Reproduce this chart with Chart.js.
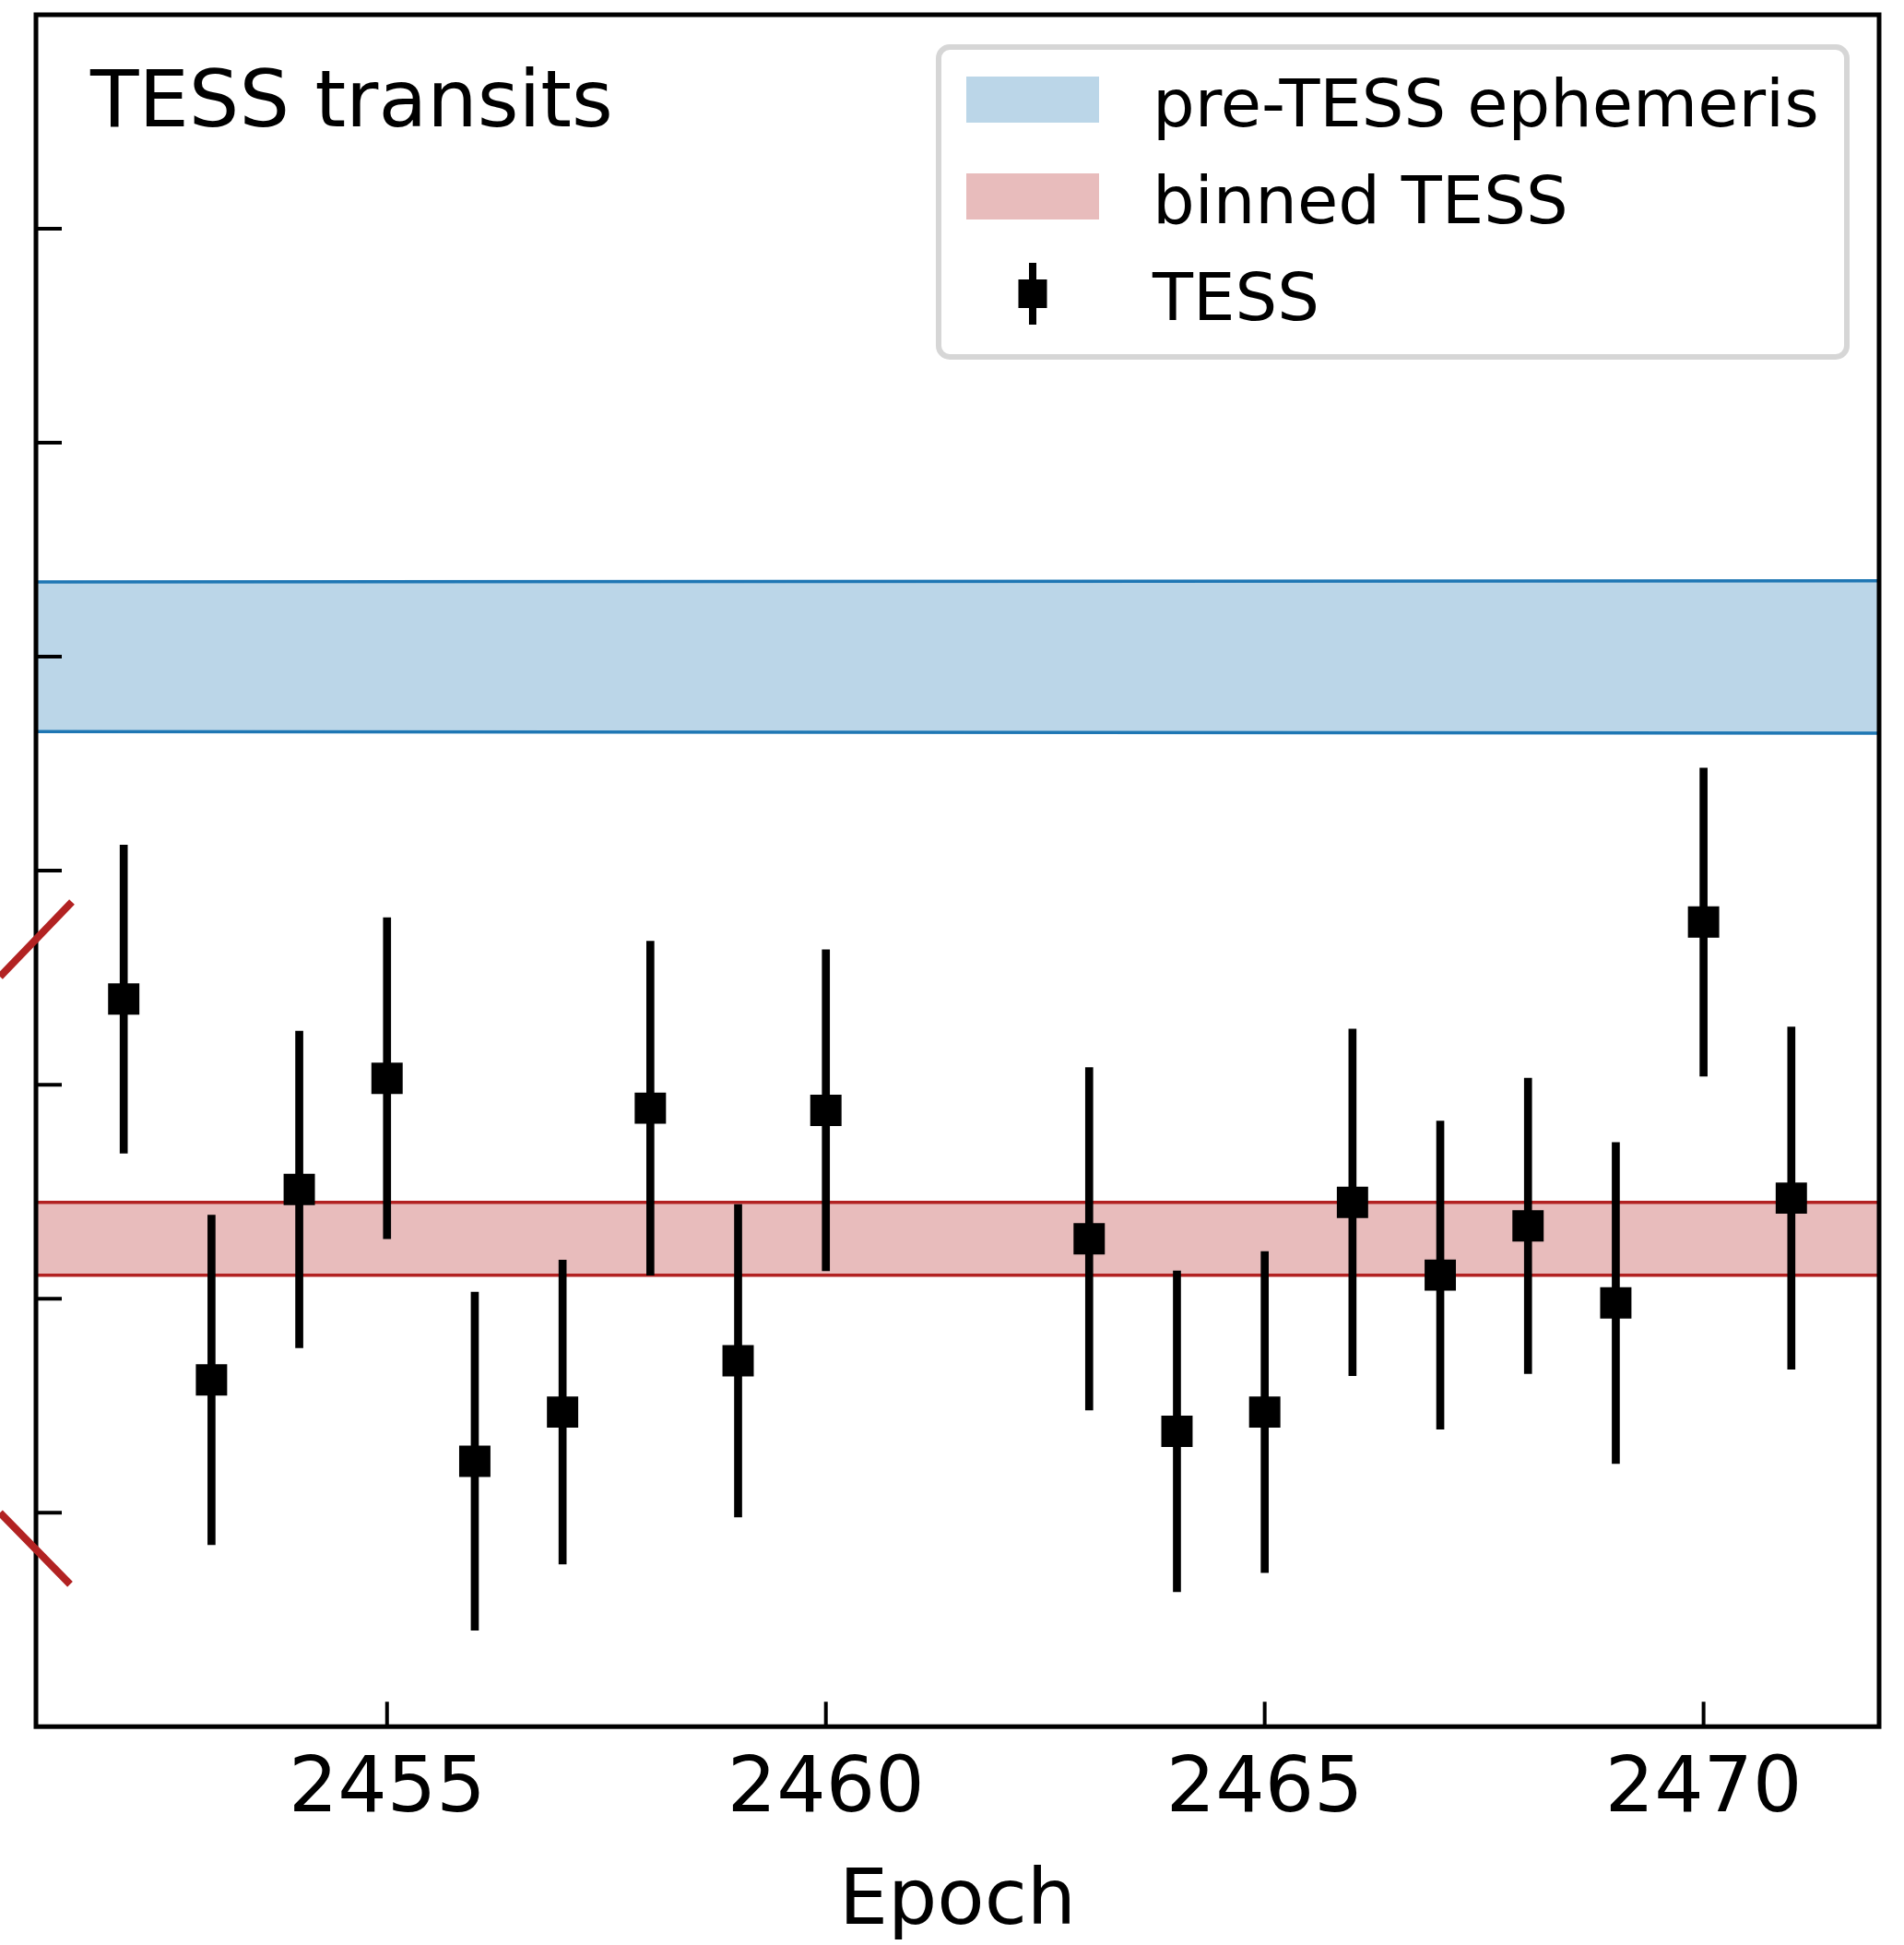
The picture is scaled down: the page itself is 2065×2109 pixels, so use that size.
<!DOCTYPE html>
<html lang="en">
<head>
<meta charset="UTF-8">
<title>TESS transits</title>
<style>
    body { margin: 0; background: #fff; }
    canvas { display: block; }
</style>
<script src="https://cdn.jsdelivr.net/npm/chart.js"></script>
</head>
<body>
<canvas id="ttvChart" width="2065" height="2109"></canvas>
<script>
    // TESS transit epochs and their timing offsets (1-sigma errors)
    const epochs = [2452, 2453, 2454, 2455, 2456, 2457, 2458, 2459, 2460, 2463, 2464, 2465, 2466, 2467, 2468, 2469, 2470, 2471];
    const offsets = [-0.60, -2.38, -1.49, -0.97, -2.76, -2.53, -1.11, -2.29, -1.12, -1.72, -2.62, -2.53, -1.55, -1.89, -1.66, -2.02, -0.24, -1.53];
    const errors = [0.72, 0.77, 0.74, 0.75, 0.79, 0.71, 0.78, 0.73, 0.75, 0.80, 0.75, 0.75, 0.81, 0.72, 0.69, 0.75, 0.72, 0.80];

    // bands, given at both ends of the epoch range
    const bandEpochs = [2451, 2472];
    const preTessLow = [0.65, 0.643];
    const preTessHigh = [1.349, 1.355];
    const binnedLow = [-1.89, -1.89];
    const binnedHigh = [-1.55, -1.55];

    const xTicks = [2455, 2460, 2465, 2470];
    const yTicks = [-3, -2, -1, 0, 1, 2, 3];

    const FONT = '"DejaVu Sans", sans-serif';
    const BLUE = '#1f77b4';
    const RED = '#b22222';
    const BLUE_FILL = 'rgba(31, 119, 180, 0.3)';
    const RED_FILL = 'rgba(178, 34, 34, 0.3)';

    function band(values) {
        return bandEpochs.map((e, i) => ({ x: e, y: values[i] }));
    }

    // frame, inward ticks, break marks, text label and legend
    const decorations = {
        id: 'decorations',
        afterDraw(chart) {
            const { ctx, chartArea: a, scales: { x, y } } = chart;
            ctx.save();

            ctx.strokeStyle = '#000';
            ctx.lineWidth = 4;
            ctx.beginPath();
            xTicks.forEach(v => {
                const px = x.getPixelForValue(v);
                ctx.moveTo(px, a.bottom);
                ctx.lineTo(px, a.bottom - 27);
            });
            yTicks.forEach(v => {
                const py = y.getPixelForValue(v);
                ctx.moveTo(a.left, py);
                ctx.lineTo(a.left + 28, py);
            });
            ctx.stroke();

            ctx.lineWidth = 5;
            ctx.strokeRect(a.left, a.top, a.right - a.left, a.bottom - a.top);

            // broken-axis marks
            ctx.strokeStyle = RED;
            ctx.lineWidth = 8;
            ctx.beginPath();
            ctx.moveTo(a.left - 39, y.getPixelForValue(-0.495));
            ctx.lineTo(a.left + 39, y.getPixelForValue(-0.146));
            ctx.moveTo(a.left - 39, y.getPixelForValue(-3.0));
            ctx.lineTo(a.left + 37, y.getPixelForValue(-3.335));
            ctx.stroke();

            ctx.fillStyle = '#000';
            ctx.textBaseline = 'alphabetic';
            ctx.textAlign = 'left';
            ctx.font = '86px ' + FONT;
            ctx.fillText('TESS transits', a.left + 59, a.top + 121);

            // legend
            const bx = a.right - 1020, by = a.top + 35, bw = 985, bh = 336;
            ctx.fillStyle = 'rgba(255,255,255,0.8)';
            ctx.strokeStyle = '#d6d6d6';
            ctx.lineWidth = 6;
            ctx.beginPath();
            ctx.roundRect(bx, by, bw, bh, 12);
            ctx.fill();
            ctx.stroke();

            const ds = chart.data.datasets;
            const rows = [
                { label: ds[1].label, fill: BLUE_FILL },
                { label: ds[3].label, fill: RED_FILL },
                { label: ds[5].label, marker: true }
            ];
            ctx.font = '72px ' + FONT;
            rows.forEach((r, i) => {
                const base = by + 86 + i * 105;
                const cx = bx + 102;
                if (r.fill) {
                    ctx.fillStyle = '#fff';
                    ctx.fillRect(bx + 30, base - 54, 144, 50);
                    ctx.fillStyle = r.fill;
                    ctx.fillRect(bx + 30, base - 54, 144, 50);
                } else {
                    ctx.fillStyle = '#000';
                    ctx.fillRect(cx - 4, base - 62, 8, 67);
                    ctx.fillRect(cx - 15.5, base - 44, 31, 31);
                }
                ctx.fillStyle = '#000';
                ctx.fillText(r.label, bx + 232, base);
            });

            ctx.restore();
        }
    };

    new Chart(document.getElementById('ttvChart'), {
        type: 'scatter',
        data: {
            datasets: [
                {
                    type: 'line', label: 'pre-TESS low', data: band(preTessLow),
                    borderColor: BLUE, borderWidth: 3.5, pointRadius: 0, fill: false, order: 5
                },
                {
                    type: 'line', label: 'pre-TESS ephemeris', data: band(preTessHigh),
                    borderColor: BLUE, borderWidth: 3.5, pointRadius: 0, fill: '-1', backgroundColor: BLUE_FILL, order: 4
                },
                {
                    type: 'line', label: 'binned low', data: band(binnedLow),
                    borderColor: RED, borderWidth: 3.5, pointRadius: 0, fill: false, order: 3
                },
                {
                    type: 'line', label: 'binned TESS', data: band(binnedHigh),
                    borderColor: RED, borderWidth: 3.5, pointRadius: 0, fill: '-1', backgroundColor: RED_FILL, order: 2
                },
                {
                    type: 'bar', label: 'TESS errors',
                    data: epochs.map((e, i) => ({ x: e, y: [offsets[i] - errors[i], offsets[i] + errors[i]] })),
                    backgroundColor: '#000', borderWidth: 0, barThickness: 8, order: 1
                },
                {
                    label: 'TESS',
                    data: epochs.map((e, i) => ({ x: e, y: offsets[i] })),
                    pointStyle: 'rect', pointRadius: 24, backgroundColor: '#000', borderWidth: 0, order: 0
                }
            ]
        },
        options: {
            responsive: false,
            animation: false,
            events: [],
            layout: { autoPadding: false, padding: { left: 39, right: 27, top: 16, bottom: 0 } },
            plugins: { legend: { display: false }, tooltip: { enabled: false } },
            scales: {
                x: {
                    type: 'linear', min: 2451, max: 2472, offset: false,
                    grid: { display: false, drawTicks: false },
                    border: { display: false },
                    afterBuildTicks: s => { s.ticks = xTicks.map(v => ({ value: v })); },
                    ticks: {
                        font: { family: FONT, size: 84 }, color: '#000', padding: 20,
                        maxRotation: 0, autoSkip: false, callback: v => String(v)
                    },
                    title: {
                        display: true, text: 'Epoch', color: '#000',
                        font: { family: FONT, size: 84, lineHeight: 1 }, padding: { top: 9, bottom: 3 }
                    }
                },
                y: { type: 'linear', min: -4, max: 4, display: false }
            }
        },
        plugins: [decorations]
    });
</script>
</body>
</html>
